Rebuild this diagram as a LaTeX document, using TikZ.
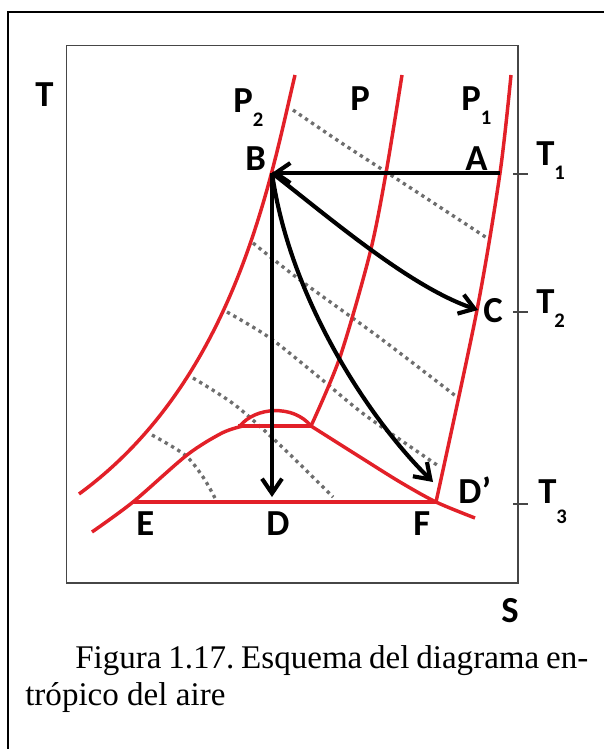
\documentclass[tikz,border=0pt]{standalone}
\usepackage{fontspec}
\setmainfont{Liberation Serif}
\newfontfamily\labfont{Carlito}
\usetikzlibrary{arrows.meta}
\definecolor{curvered}{RGB}{226,32,40}
\definecolor{dotgray}{RGB}{110,110,110}
\definecolor{boxgray}{RGB}{70,70,70}
\newcommand\lsub[2][10.5pt]{\raisebox{-#1}{\fontsize{15.5pt}{15.5pt}\selectfont #2}}
\begin{document}
\begin{tikzpicture}[x=0.75pt,y=-0.75pt,
  redline/.style={draw=curvered,line width=2.6pt,line join=round},
  dotline/.style={draw=dotgray,line width=2.5pt,dash pattern=on 2.5pt off 3pt},
  arr/.style={draw=black,line width=3.1pt,-{Straight Barb[length=11pt,width=15pt]}},
  lab/.style={anchor=base west,inner sep=0pt,font=\labfont\bfseries\fontsize{27.5pt}{27.5pt}\selectfont},
  captext/.style={anchor=base west,inner sep=0pt,font=\fontsize{24.8pt}{29pt}\selectfont},
]
\useasboundingbox (0,0) rectangle (603,749);
% frames
\draw[line width=1.6pt] (8,760) -- (8,12) -- (610,12);
\draw[boxgray,line width=0.9pt] (66.5,45.5) rectangle (518,583);
% ticks
\draw[boxgray,line width=0.9pt] (513,174) -- (528,174);
\draw[boxgray,line width=0.9pt] (513,312) -- (528,312);
\draw[boxgray,line width=0.9pt] (513,504) -- (528,504);
% dotted lines
\draw[dotline] plot[smooth] coordinates {(293,110) (340,142) (400,181) (487,238)};
\draw[dotline] plot[smooth] coordinates {(253,243) (300,280) (380,338) (457,397)};
\draw[dotline] plot[smooth] coordinates {(227,312) (270,338) (320,378) (365,415) (440,467)};
\draw[dotline] plot[smooth] coordinates {(193,378) (235,405) (280,445) (333,497)};
\draw[dotline] plot[smooth] coordinates {(152,435) (185,455) (203,477) (215,498)};
% red curves
\draw[redline] (295,75) .. controls (270,180) and (235,380) .. (79,494);
\draw[redline] plot[smooth] coordinates {(402,75) (386,173) (370,253) (340,357) (311,426)};
\draw[redline] plot[smooth] coordinates {(511,75) (500,173) (477,310) (436,502)};
\draw[redline] plot[smooth] coordinates {(92,532) (133,502) (187,455) (222,433) (243,426)};
\draw[redline] (238,426) -- (311,426);
\draw[redline] (240,426) .. controls (255,407) and (293,404) .. (311,426);
\draw[redline] plot[smooth] coordinates {(311,426) (360,457) (400,482) (436,502) (475,518)};
\draw[redline] (133,502) -- (436,502);
% process arrows
\coordinate (A) at (500,173);
\coordinate (B) at (272,173);
\coordinate (C) at (478,310);
\coordinate (D) at (272,497);
\coordinate (Dp) at (433,482);
\draw[arr] (A) -- (B);
\draw[arr] (B) .. controls (330,218) and (410,287) .. (C);
\draw[arr] (B) -- (D);
\draw[arr] (B) .. controls (290,300) and (370,420) .. (Dp);
% labels
\node[lab] (lT) at (35,107) {T};
\node[lab] (lP2) at (233,112) {P\lsub{2}};
\node[lab] (lP) at (350,110) {P};
\node[lab] (lP1) at (461,110) {P\lsub{1}};
\node[lab] (lB) at (245,170) {B};
\node[lab] (lA) at (465,170) {A};
\node[lab] (lT1) at (536,165) {T\lsub[11pt]{1}};
\node[lab] (lC) at (483,322) {C};
\node[lab] (lT2) at (536,313) {T\lsub[11pt]{2}};
\node[lab] (lDp) at (458,503) {D’};
\node[lab] (lT3) at (538,503) {T\lsub[15pt]{3}};
\node[lab] (lE) at (136,535) {E};
\node[lab] (lD) at (266,535) {D};
\node[lab] (lF) at (413,535) {F};
\node[lab] (lS) at (501,622) {S};
% caption
\node[captext] (cap1) at (75,668) {\hbox to 384.75pt{Figura\hfill 1.17.\hfill Esquema\hfill del\hfill diagrama\hfill en-}};
\node[captext] (cap2) at (25,705) {trópico del aire};
\end{tikzpicture}
\end{document}
